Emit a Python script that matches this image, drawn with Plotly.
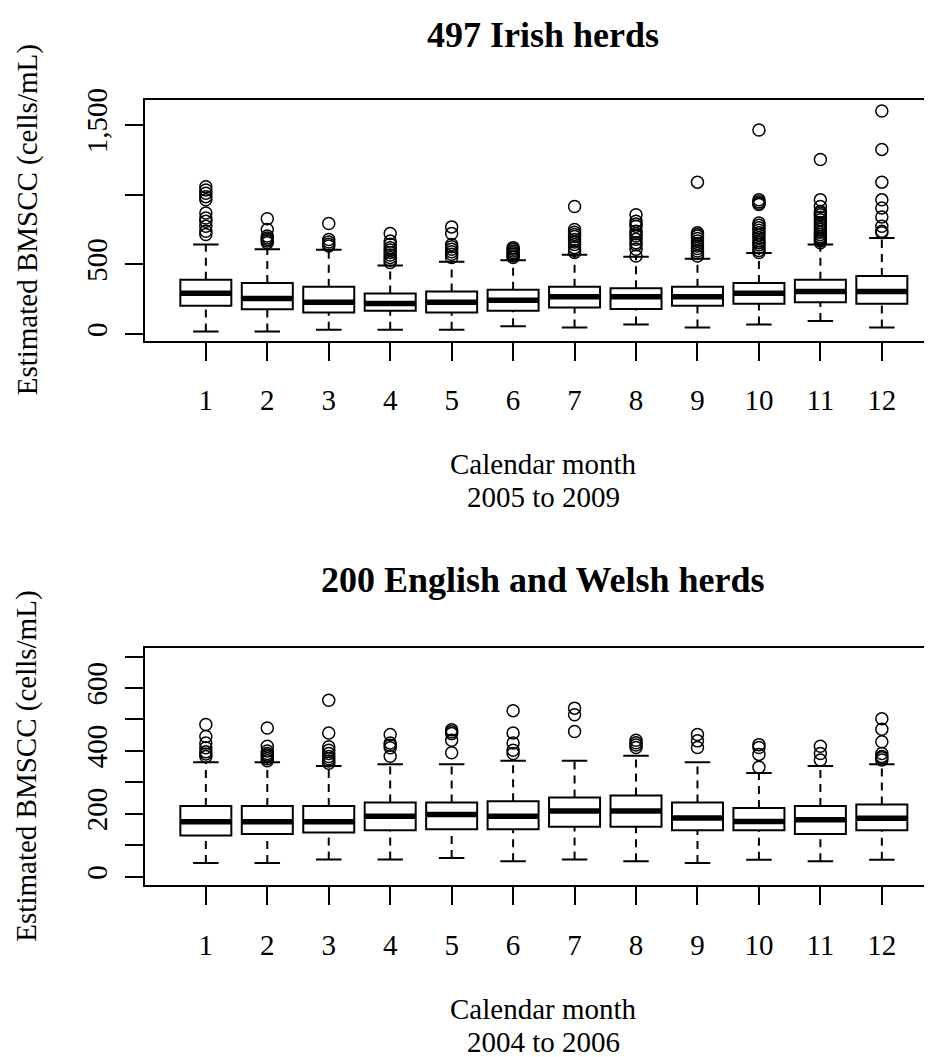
import plotly.graph_objects as go

# ---------------- data ----------------
months = [1, 2, 3, 4, 5, 6, 7, 8, 9, 10, 11, 12]
month_labels = ["1", "2", "3", "4", "5", "6", "7", "8", "9", "10", "11", "12"]

# 497 Irish herds, 2005 to 2009
irl_lo = [19, 19, 30, 30, 30, 55, 47, 69, 47, 69, 94, 47]
irl_q1 = [203, 177, 154, 168, 154, 168, 191, 179, 203, 218, 229, 218]
irl_med = [293, 255, 229, 220, 229, 243, 267, 267, 267, 293, 305, 305]
irl_q3 = [390, 367, 340, 291, 305, 317, 340, 328, 340, 367, 390, 416]
irl_hi = [643, 608, 605, 491, 518, 530, 569, 555, 541, 581, 643, 690]
irl_out = [
    [714, 738, 773, 809, 833, 868, 963, 986, 1010, 1034, 1057],
    [655, 668, 679, 690, 703, 750, 828],
    [632, 645, 660, 679, 793],
    [514, 530, 549, 567, 585, 603, 620, 645, 667, 722],
    [549, 572, 590, 608, 626, 643, 722, 769],
    [549, 560, 572, 584, 596, 608, 620],
    [585, 600, 620, 643, 660, 679, 700, 714, 730, 750, 915],
    [560, 608, 640, 655, 680, 703, 720, 738, 773, 790, 809, 856],
    [560, 578, 596, 614, 632, 650, 667, 685, 703, 715, 727, 1090],
    [585, 600, 620, 640, 655, 670, 691, 710, 727, 745, 762, 780, 797, 930, 939, 950, 963, 1464],
    [655, 667, 679, 690, 700, 714, 730, 750, 765, 785, 800, 821, 838, 856, 868, 880, 915, 963, 1252],
    [727, 738, 773, 840, 904, 963, 1090, 1325, 1601],
]

# 200 English and Welsh herds, 2004 to 2006
ew_lo = [44, 44, 55, 55, 60, 49, 55, 49, 44, 54, 49, 54]
ew_q1 = [131, 136, 141, 148, 151, 151, 159, 159, 148, 148, 136, 148]
ew_med = [175, 175, 175, 192, 198, 192, 209, 209, 187, 176, 181, 186]
ew_q3 = [225, 225, 225, 236, 236, 240, 252, 258, 236, 219, 225, 230]
ew_hi = [364, 364, 352, 358, 358, 369, 369, 385, 364, 330, 352, 358]
ew_out = [
    [382, 390, 397, 410, 425, 446, 484],
    [369, 375, 382, 387, 392, 400, 415, 473],
    [361, 368, 375, 382, 392, 402, 413, 457, 561],
    [383, 410, 418, 425, 452],
    [394, 434, 455, 461, 467],
    [392, 402, 425, 457, 528],
    [462, 515, 536],
    [411, 419, 426, 434],
    [411, 432, 452],
    [348, 389, 411, 420],
    [371, 392, 415],
    [371, 378, 382, 392, 429, 469, 502],
]

titles = ["497 Irish herds", "200 English and Welsh herds"]
periods = ["2005 to 2009", "2004 to 2006"]
xlab = "Calendar month"
ylab = "Estimated BMSCC (cells/mL)"

# ---------------- layout constants ----------------
OFF = 8                      # default page body margin of the html page
W, H = 932 - OFF, 1057 - OFF
ML, MR = 145 - OFF, 1
FONT = "Liberation Serif, Times New Roman, serif"
BOXW = 0.83
STAPLE = BOXW / 2
LW = 2


def py(px):  # page pixel-from-top -> paper y
    return 1 - (px - OFF) / H


def pxx(px):  # page pixel-from-left -> paper x
    return (px - OFF - ML) / (W - ML - MR)


fig = go.Figure()

panels = [
    dict(lo=irl_lo, q1=irl_q1, med=irl_med, q3=irl_q3, hi=irl_hi, out=irl_out,
         xa="x", ya="y"),
    dict(lo=ew_lo, q1=ew_q1, med=ew_med, q3=ew_q3, hi=ew_hi, out=ew_out,
         xa="x2", ya="y2"),
]

for p in panels:
    # whiskers (dashed)
    wx, wy = [], []
    for m, lo, q1, q3, hi in zip(months, p["lo"], p["q1"], p["q3"], p["hi"]):
        wx += [m, m, None, m, m, None]
        wy += [q3, hi, None, lo, q1, None]
    fig.add_trace(go.Scatter(x=wx, y=wy, mode="lines", xaxis=p["xa"], yaxis=p["ya"],
                             line=dict(color="black", width=LW, dash="8px,6px"),
                             hoverinfo="skip", showlegend=False))
    # staples
    sx, sy = [], []
    for m, lo, hi in zip(months, p["lo"], p["hi"]):
        sx += [m - STAPLE / 2, m + STAPLE / 2, None, m - STAPLE / 2, m + STAPLE / 2, None]
        sy += [hi, hi, None, lo, lo, None]
    fig.add_trace(go.Scatter(x=sx, y=sy, mode="lines", xaxis=p["xa"], yaxis=p["ya"],
                             line=dict(color="black", width=LW),
                             hoverinfo="skip", showlegend=False))
    # boxes
    fig.add_trace(go.Box(x=months, q1=p["q1"], median=p["med"], q3=p["q3"],
                         lowerfence=p["q1"], upperfence=p["q3"],
                         width=BOXW, whiskerwidth=0, boxpoints=False,
                         fillcolor="white", line=dict(color="black", width=LW),
                         xaxis=p["xa"], yaxis=p["ya"], hoverinfo="skip",
                         showlegend=False))
    # thick medians
    mx, my = [], []
    for m, md in zip(months, p["med"]):
        mx += [m - BOXW / 2, m + BOXW / 2, None]
        my += [md, md, None]
    fig.add_trace(go.Scatter(x=mx, y=my, mode="lines", xaxis=p["xa"], yaxis=p["ya"],
                             line=dict(color="black", width=5.5),
                             hoverinfo="skip", showlegend=False))
    # outliers
    ox, oy = [], []
    for m, outs in zip(months, p["out"]):
        ox += [m] * len(outs)
        oy += outs
    fig.add_trace(go.Scatter(x=ox, y=oy, mode="markers", xaxis=p["xa"], yaxis=p["ya"],
                             marker=dict(symbol="circle-open", size=12, color="black",
                                         line=dict(width=1.5, color="black")),
                             hoverinfo="skip", showlegend=False))

xcommon = dict(range=[0.01, 12.8], tickmode="array", tickvals=months, ticktext=month_labels,
               ticks="outside", ticklen=18, tickwidth=LW, tickcolor="black",
               showline=True, linecolor="black", linewidth=LW, mirror=True,
               showgrid=False, zeroline=False, ticklabelstandoff=15,
               tickfont=dict(family=FONT, size=29, color="black"))
ycommon = dict(ticks="outside", ticklen=18, tickwidth=LW, tickcolor="black",
               showline=True, linecolor="black", linewidth=LW,
               showgrid=False, zeroline=False, tickangle=-90, ticklabelstandoff=6,
               tickfont=dict(family=FONT, size=29, color="black"))

top_y = [89, 332.3]
bot_y = [643.3, 883.3]

fig.update_layout(
    width=W, height=H, margin=dict(l=ML, r=MR, t=0, b=0),
    paper_bgcolor="white", plot_bgcolor="white",
    xaxis=dict(domain=[0, 1], anchor="y", **xcommon),
    xaxis2=dict(domain=[0, 1], anchor="y2", **xcommon),
    yaxis=dict(domain=[py(top_y[1]), py(top_y[0])], anchor="x", range=[-47, 1679],
               tickmode="array", tickvals=[0, 500, 1000, 1500],
               ticktext=["0", "500", "", "1,500"], **ycommon),
    yaxis2=dict(domain=[py(bot_y[1]), py(bot_y[0])], anchor="x2", range=[-27, 727],
                tickmode="array", tickvals=[0, 100, 200, 300, 400, 500, 600, 700],
                ticktext=["0", "", "200", "", "400", "", "600", ""], **ycommon),
)

cx = pxx(543)
ann = []
for title, period, (ytop, ybot), ttl_y, xl_y in [
    (titles[0], periods[0], top_y, 23, 457),
    (titles[1], periods[1], bot_y, 574, 1008),
]:
    ann.append(dict(text="<b>" + title + "</b>", x=cx, y=py(ttl_y), xref="paper", yref="paper",
                    xanchor="center", yanchor="middle", showarrow=False,
                    font=dict(family=FONT, size=36, color="black")))
    ann.append(dict(text=xlab, x=cx, y=py(xl_y), xref="paper", yref="paper",
                    xanchor="center", yanchor="middle", showarrow=False,
                    font=dict(family=FONT, size=29, color="black")))
    ann.append(dict(text=period, x=cx, y=py(xl_y + 34), xref="paper", yref="paper",
                    xanchor="center", yanchor="middle", showarrow=False,
                    font=dict(family=FONT, size=29, color="black")))
    ann.append(dict(text=ylab, x=pxx(27), y=py((ytop + ybot) / 2), xref="paper", yref="paper",
                    xanchor="center", yanchor="middle", showarrow=False, textangle=-90,
                    font=dict(family=FONT, size=29, color="black")))
fig.update_layout(annotations=ann)

fig.write_html("out.html")
